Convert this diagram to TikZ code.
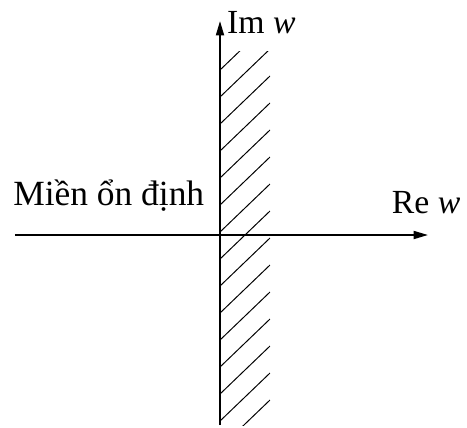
\documentclass[tikz,border=0pt]{standalone}
\usepackage{fontspec}
\setmainfont{Liberation Serif}
\usetikzlibrary{arrows.meta, positioning}

\begin{document}
\begin{tikzpicture}[>={Triangle[length=3.6mm, width=2mm]}, axis/.style={->, line width=1.3pt}, hatch/.style={line width=0.7pt}, lbl/.style={inner sep=0pt, anchor=base west, font=\fontsize{24}{28}\selectfont}]
        \useasboundingbox (-5.5,-4.8) rectangle (6.175,5.875);
        \coordinate (xl) at (-5.125,0);
        \coordinate (xr) at (5.2,0);
        \coordinate (yb) at (0,-4.75);
        \coordinate (yt) at (0,5.35);

        % hatched half plane
        \begin{scope}
          \clip (0,-4.75) rectangle (1.25,4.6);
          \foreach \k in {-1,...,13}
            \draw[hatch] (0,3.45-0.675*\k) -- ++(1.25,1.2);
        \end{scope}

        \draw[axis] (xl) -- (xr);
        \draw[axis] (yb) -- (yt);

        \node[lbl] (im) at (0.17,5.05) {Im \textit{w}};
        \node[lbl] (re) at (4.29,0.54) {Re \textit{w}};
        \node[lbl, font=\fontsize{25.2}{29}\selectfont] (mien) at (-5.175,0.75) {Miền ổn định};
      \end{tikzpicture}
\end{document}
